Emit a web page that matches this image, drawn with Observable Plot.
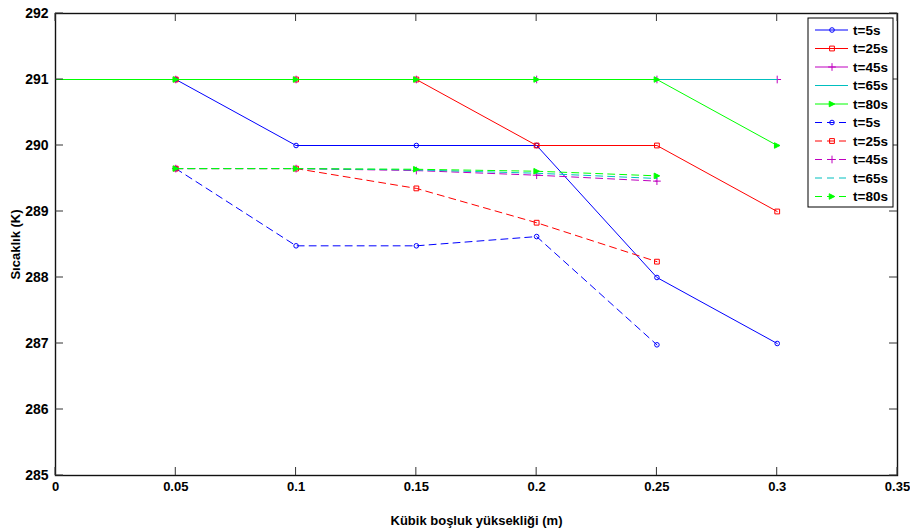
<!DOCTYPE html>
<html>
<head>
<meta charset="utf-8">
<script src="https://cdn.jsdelivr.net/npm/d3@7"></script>
<script src="https://cdn.jsdelivr.net/npm/@observablehq/plot@0.6"></script>
<style>
  html, body { margin: 0; padding: 0; background: #fff; }
  #chart { width: 910px; height: 532px; }
</style>
</head>
<body>
<div id="chart"></div>
<script>
// ---- data ----
const solidHeights = [0, 0.05, 0.1, 0.15, 0.2, 0.25, 0.3];
const solidT5  = [null, 291, 290, 290, 290, 288, 287];
const solidT25 = [null, 291, 291, 291, 290, 290, 289];
const solidT45 = [null, 291, 291, 291, 291, 291, 291];
const solidT65 = [null, 291, 291, 291, 291, 291, 291];
const solidT80 = [291, 291, 291, 291, 291, 291, 290];

const dashHeights = [0.05, 0.1, 0.15, 0.2, 0.25];
const dashT5  = [289.65, 288.48, 288.48, 288.62, 286.98];
const dashT25 = [289.65, 289.65, 289.35, 288.83, 288.24];
const dashT45 = [289.65, 289.65, 289.62, 289.55, 289.46];
const dashT65 = [289.65, 289.65, 289.63, 289.58, 289.50];
const dashT80 = [289.65, 289.65, 289.64, 289.61, 289.54];

const seriesNames = ["t=5s", "t=25s", "t=45s", "t=65s", "t=80s"];
const seriesColors = ["#0000ff", "#ff0000", "#bf00bf", "#00bfbf", "#00ff00"];

const xTicks = [0, 0.05, 0.1, 0.15, 0.2, 0.25, 0.3, 0.35];
const xTickLabels = ["0", "0.05", "0.1", "0.15", "0.2", "0.25", "0.3", "0.35"];
const yTicks = [285, 286, 287, 288, 289, 290, 291, 292];
const yTickLabels = ["285", "286", "287", "288", "289", "290", "291", "292"];

const xLabel = "Kübik boşluk yüksekliği (m)";
const yLabel = "Sıcaklık (K)";

// ---- build tables ----
const triRight = {
  draw(ctx, size) {
    const r = Math.sqrt(size) * 0.6;
    ctx.moveTo(r, 0);
    ctx.lineTo(-r, -r);
    ctx.lineTo(-r, r);
    ctx.closePath();
  }
};
const symbols = ["circle", "square", "plus", null, triRight];
const symbolFill = [false, false, false, false, true];
const symbolR = [2.3, 2.7, 2.6, 0, 2.6];

function rows(heights, vals, si, dashed) {
  return heights.map((h, i) => ({x: h, y: vals[i], s: si, dashed}))
    .filter(d => d.y != null);
}
const solidVals = [solidT5, solidT25, solidT45, solidT65, solidT80];
const dashVals = [dashT5, dashT25, dashT45, dashT65, dashT80];

const FONT = "'Liberation Sans', Arial, sans-serif";

const marks = [];
function addSeries(heights, vals, si, dashed) {
  const data = rows(heights, vals, si, dashed);
  marks.push(Plot.line(data, {
    x: "x", y: "y", stroke: seriesColors[si], strokeWidth: 1,
    strokeDasharray: dashed ? "7,5" : null
  }));
  if (symbols[si]) {
    marks.push(Plot.dot(data.filter(d => d.x > 0), {
      x: "x", y: "y", symbol: symbols[si], r: symbolR[si],
      stroke: seriesColors[si], strokeWidth: 1,
      fill: symbolFill[si] ? seriesColors[si] : "none"
    }));
  }
}
solidVals.forEach((v, i) => addSeries(solidHeights, v, i, false));
dashVals.forEach((v, i) => addSeries(dashHeights, v, i, true));

const chart = Plot.plot({
  width: 910,
  height: 532,
  marginLeft: 55,
  marginRight: 13,
  marginTop: 13,
  marginBottom: 57,
  style: {fontFamily: FONT, fontWeight: "bold", background: "#fff", color: "#000"},
  x: {domain: [0, 0.35]},
  y: {domain: [285, 292]},
  marks: [
    ...marks,
    Plot.axisX({
      ticks: xTicks, tickSize: 0, tickPadding: 6,
      tickFormat: d => xTickLabels[xTicks.indexOf(d)],
      fontSize: 13, fontWeight: "bold", fill: "#000",
      label: xLabel, labelAnchor: "center", labelOffset: 49, labelArrow: "none"
    }),
    Plot.axisY({
      ticks: yTicks, tickSize: 0, tickPadding: 7,
      tickFormat: d => yTickLabels[yTicks.indexOf(d)],
      fontSize: 14, fontWeight: "bold", fill: "#000",
      label: yLabel, labelAnchor: "center", labelOffset: 45, labelArrow: "none"
    }),
    Plot.frame({stroke: "#111", strokeWidth: 1.4})
  ]
});
document.getElementById("chart").appendChild(chart);

const svg = d3.select(chart);

// strip any label arrows
svg.selectAll("text").each(function() {
  const t = d3.select(this);
  if (this.childElementCount === 0) {
    const s = t.text();
    if (/[→↑←↓]/.test(s)) t.text(s.replace(/\s*[→↑←↓]\s*/g, "").trim());
  }
});
svg.selectAll("[aria-label='x-axis label'], [aria-label='y-axis label']").attr("font-size", 13);

// ---- inward ticks (MATLAB style) ----
const sx = chart.scale("x"), sy = chart.scale("y");
const px0 = sx.apply(0.0), px1 = sx.apply(0.35);
const py0 = sy.apply(285), py1 = sy.apply(292);
const tg = svg.append("g").attr("stroke", "#333").attr("stroke-width", 1);
xTicks.forEach(v => {
  const px = sx.apply(v);
  tg.append("line").attr("x1", px).attr("x2", px).attr("y1", py0).attr("y2", py0 - 8);
  tg.append("line").attr("x1", px).attr("x2", px).attr("y1", py1).attr("y2", py1 + 8);
});
yTicks.forEach(v => {
  const py = sy.apply(v);
  tg.append("line").attr("x1", px0).attr("x2", px0 + 8).attr("y1", py).attr("y2", py);
  tg.append("line").attr("x1", px1).attr("x2", px1 - 8).attr("y1", py).attr("y2", py);
});

// ---- legend ----
const lg = svg.append("g").attr("font-family", FONT).attr("font-weight", "bold")
  .attr("font-size", 13.5).attr("text-anchor", "start");
lg.append("rect").attr("x", 808).attr("y", 18).attr("width", 85).attr("height", 189)
  .attr("fill", "#fff").attr("stroke", "#000").attr("stroke-width", 1);
const entries = [];
[false, true].forEach(dashed => seriesNames.forEach((n, i) => entries.push({n, i, dashed})));
entries.forEach((e, k) => {
  const yy = 30 + k * 18.5;
  const c = seriesColors[e.i];
  lg.append("line").attr("x1", 815).attr("x2", 848).attr("y1", yy).attr("y2", yy)
    .attr("stroke", c).attr("stroke-width", 1)
    .attr("stroke-dasharray", e.dashed ? "7,5" : null);
  const sym = symbols[e.i];
  if (sym) {
    const r = symbolR[e.i];
    const type = typeof sym === "string"
      ? ({circle: d3.symbolCircle, square: d3.symbolSquare, plus: d3.symbolPlus})[sym]
      : sym;
    lg.append("path").attr("transform", `translate(832,${yy})`)
      .attr("d", d3.symbol(type, r * r * Math.PI)())
      .attr("stroke", c).attr("stroke-width", 1)
      .attr("fill", symbolFill[e.i] ? c : "none");
  }
  lg.append("text").attr("x", 853).attr("y", yy).attr("dy", "0.36em")
    .attr("text-anchor", "start").attr("fill", "#000").text(e.n);
});
</script>
</body>
</html>
